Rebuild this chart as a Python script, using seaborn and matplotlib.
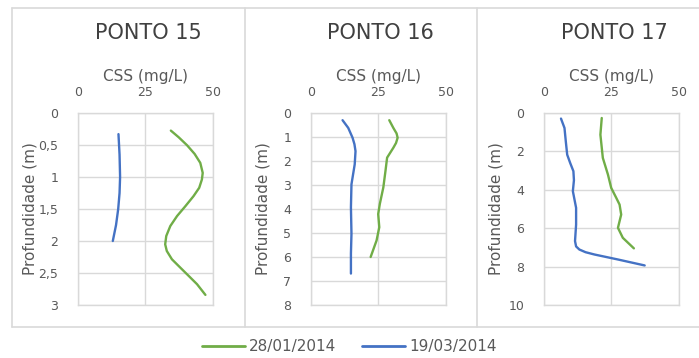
import matplotlib
matplotlib.use("Agg")
import matplotlib.pyplot as plt
from matplotlib.lines import Line2D
import seaborn as sns
import pandas as pd

# CSS (mg/L) profiles against depth (m) for each sampling point
p15_jan_depth = [0.275, 0.379, 0.504, 0.639, 0.779, 0.935, 1.039, 1.169, 1.299, 1.455,
                 1.610, 1.766, 1.922, 2.052, 2.156, 2.286, 2.416, 2.545, 2.675, 2.842]
p15_jan_css = [34.5, 37.4, 40.5, 43.3, 45.4, 46.3, 46.0, 45.0, 42.9, 39.9,
               36.8, 34.3, 32.8, 32.4, 33.0, 34.9, 38.0, 41.1, 44.2, 47.3]
p15_mar_depth = [0.33, 0.65, 1.0, 1.25, 1.5, 1.75, 2.0]
p15_mar_css = [15.1, 15.5, 15.7, 15.5, 15.0, 14.2, 13.0]

p16_jan_depth = [0.30, 0.62, 0.85, 1.03, 1.25, 1.45, 1.86, 2.41, 3.10, 3.79, 4.21, 4.76, 5.31, 6.0]
p16_jan_css = [29.1, 30.6, 31.8, 32.2, 31.6, 30.6, 28.3, 27.7, 26.9, 25.6, 25.0, 25.4, 24.4, 22.2]
p16_mar_depth = [0.30, 0.62, 1.03, 1.30, 1.59, 2.14, 2.97, 3.93, 5.03, 5.86, 6.69]
p16_mar_css = [11.8, 13.9, 15.5, 16.2, 16.6, 16.3, 15.1, 14.9, 15.1, 14.9, 14.9]

p17_jan_depth = [0.26, 1.13, 2.34, 3.21, 3.90, 4.40, 4.77, 5.29, 5.98, 6.50, 7.05]
p17_jan_css = [21.5, 21.0, 21.9, 23.8, 25.0, 26.8, 28.1, 28.7, 27.5, 29.3, 33.4]
p17_mar_depth = [0.29, 0.78, 1.50, 2.17, 2.60, 3.03, 3.50, 4.07, 4.94, 5.81, 6.67, 6.95,
                 7.11, 7.25, 7.37, 7.63, 7.94]
p17_mar_css = [6.4, 7.7, 8.2, 8.7, 9.8, 11.0, 11.2, 10.8, 12.0, 12.0, 11.6, 12.0,
               13.2, 15.5, 18.8, 27.5, 37.4]

panel_titles = ["PONTO 15", "PONTO 16", "PONTO 17"]
series_labels = ["28/01/2014", "19/03/2014"]
x_ticks = [0, 25, 50]
y_ticks = [
    [0, 0.5, 1, 1.5, 2, 2.5, 3],
    [0, 1, 2, 3, 4, 5, 6, 7, 8],
    [0, 2, 4, 6, 8, 10],
]
y_ticklabels = [
    ["0", "0,5", "1", "1,5", "2", "2,5", "3"],
    ["0", "1", "2", "3", "4", "5", "6", "7", "8"],
    ["0", "2", "4", "6", "8", "10"],
]

panels = [
    ((p15_jan_css, p15_jan_depth), (p15_mar_css, p15_mar_depth)),
    ((p16_jan_css, p16_jan_depth), (p16_mar_css, p16_mar_depth)),
    ((p17_jan_css, p17_jan_depth), (p17_mar_css, p17_mar_depth)),
]

sns.set_theme(style="white")
plt.rcParams["font.family"] = ["DejaVu Sans"]

GREEN = "#70ad47"
BLUE = "#4472c4"
TEXT = "#595959"
TITLE = "#404040"
GRID = "#d9d9d9"

W, H = 699, 358
fig = plt.figure(figsize=(W / 100, H / 100), dpi=100)
fig.patch.set_facecolor("white")

ax_lefts = [77.7, 310.7, 543.7]
ax_w = 135.0
ax_top, ax_bottom = 113.0, 305.0

for i, (left_px, (jan, mar)) in enumerate(zip(ax_lefts, panels)):
    ax = fig.add_axes([left_px / W, 1 - ax_bottom / H, ax_w / W, (ax_bottom - ax_top) / H])
    for (css, depth), color, lab in zip((jan, mar), (GREEN, BLUE), series_labels):
        df = pd.DataFrame({"css": css, "depth": depth})
        sns.lineplot(data=df, x="css", y="depth", sort=False, estimator=None,
                     color=color, linewidth=1.7, ax=ax, label=lab, legend=False)
    for line in ax.get_lines():
        line.set_solid_joinstyle("round")
        line.set_solid_capstyle("round")
    ax.set_xlim(0, 50)
    ymax = y_ticks[i][-1]
    ax.set_ylim(ymax, 0)
    ax.set_xticks(x_ticks)
    ax.set_xticklabels([str(t) for t in x_ticks])
    ax.set_yticks(y_ticks[i])
    ax.set_yticklabels(y_ticklabels[i])
    ax.xaxis.tick_top()
    ax.xaxis.set_label_position("top")
    ax.tick_params(axis="x", length=0, pad=10, labelsize=9, labelcolor=TEXT)
    ax.tick_params(axis="y", length=0, pad=14, labelsize=9, labelcolor=TEXT)
    ax.grid(True, color=GRID, linewidth=1.0)
    ax.set_axisbelow(True)
    for sp in ax.spines.values():
        sp.set_color(GRID)
        sp.set_linewidth(1.0)
    ax.set_xlabel("CSS (mg/L)", fontsize=11, color=TEXT, labelpad=4)
    ax.set_ylabel("Profundidade (m)", fontsize=11, color=TEXT, labelpad=2)
    ax.yaxis.set_label_coords(-0.30, 0.5)
    ax.text(0.52, 1.417, panel_titles[i], transform=ax.transAxes, ha="center",
            va="center", fontsize=15, color=TITLE)

# outer chart frames
frame_kw = dict(color=GRID, linewidth=1.2, transform=fig.transFigure)
top_y, bot_y = 1 - 8 / H, 1 - 327 / H
fig.add_artist(Line2D([12 / W, 1.01], [top_y, top_y], **frame_kw))
fig.add_artist(Line2D([12 / W, 1.01], [bot_y, bot_y], **frame_kw))
for xv in (12, 245, 477):
    fig.add_artist(Line2D([xv / W, xv / W], [bot_y, top_y], **frame_kw))

handles = [Line2D([], [], color=GREEN, linewidth=2), Line2D([], [], color=BLUE, linewidth=2)]
leg = fig.legend(handles, series_labels, loc="center", bbox_to_anchor=(0.5, 1 - 347 / H),
                 ncol=2, frameon=False, fontsize=11, handlelength=2.8,
                 handletextpad=0.3, columnspacing=1.7)
for t in leg.get_texts():
    t.set_color(TEXT)

fig.savefig("out.png", dpi=100, facecolor="white")
